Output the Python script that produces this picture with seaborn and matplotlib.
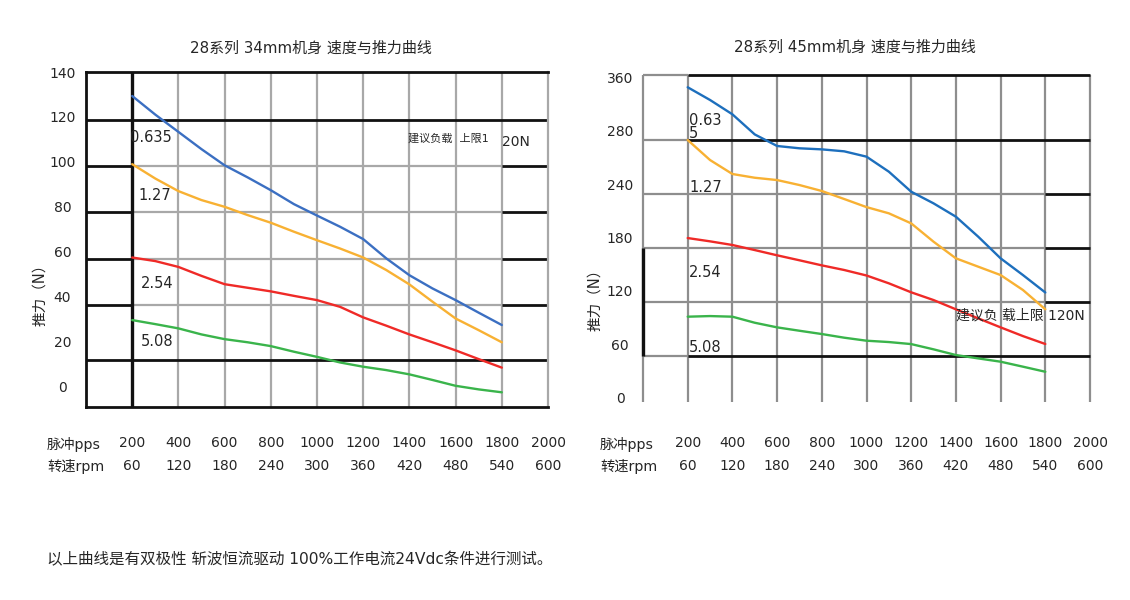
import matplotlib
matplotlib.use("Agg")
import matplotlib.pyplot as plt
import matplotlib.transforms as mtransforms
import pandas as pd
import seaborn as sns

# ---------------- data ----------------
pps = [200, 300, 400, 500, 600, 700, 800, 900, 1000,
       1100, 1200, 1300, 1400, 1500, 1600, 1700, 1800]
pps_ticks = [200, 400, 600, 800, 1000, 1200, 1400, 1600, 1800, 2000]
rpm_ticks = [60, 120, 180, 240, 300, 360, 420, 480, 540, 600]
leads = ["0.635", "1.27", "2.54", "5.08"]

# 34mm body (left chart)
l34_0635 = [129.3, 121.0, 113.3, 105.6, 98.4, 93.0, 87.3, 81.1, 76.0,
            71.0, 65.5, 56.9, 49.4, 43.5, 38.3, 32.7, 27.2]
l34_127 = [98.9, 92.5, 86.9, 82.9, 79.9, 76.2, 72.8, 68.8, 65.0,
           61.3, 57.3, 51.7, 45.3, 37.6, 30.1, 24.9, 19.5]
l34_254 = [57.3, 55.7, 53.1, 49.1, 45.4, 43.8, 42.2, 40.2, 38.3,
           35.3, 30.6, 26.9, 23.0, 19.5, 15.9, 12.0, 8.2]
l34_508 = [29.4, 27.6, 25.7, 23.0, 20.9, 19.5, 17.8, 15.3, 13.0,
           10.5, 8.6, 7.1, 5.2, 2.7, 0.1, -1.5, -2.8]

# 45mm body (right chart)
l45_0635 = [349.0, 334.7, 318.6, 296.0, 283.0, 280.4, 279.2, 277.0, 271.0,
            254.1, 231.6, 218.5, 203.5, 181.0, 156.7, 137.9, 118.3]
l45_127 = [289.7, 267.2, 251.5, 247.3, 244.7, 239.1, 232.4, 223.4, 214.3,
           207.3, 196.0, 175.4, 156.7, 147.3, 137.9, 121.1, 99.4]
l45_254 = [179.5, 175.8, 171.7, 166.0, 160.1, 154.5, 148.8, 143.6, 137.4,
           128.6, 118.5, 109.8, 99.4, 89.2, 79.1, 69.3, 60.4]
l45_508 = [91.1, 91.8, 91.1, 84.3, 79.1, 75.3, 71.6, 67.5, 64.1,
           62.6, 60.3, 54.4, 48.0, 44.2, 40.5, 34.9, 29.2]

left_y_ticks = [0, 20, 40, 60, 80, 100, 120, 140]
left_y_labels = ["0", "20", "40", "60", "80", "100", "120", "140"]
right_y_ticks = [0, 60, 120, 180, 240, 300, 360]
right_y_labels = ["0", "60", "120", "180", "240", "280", "360"]

left_title = "28系列 34mm机身 速度与推力曲线"
right_title = "28系列 45mm机身 速度与推力曲线"
ylabel = "推力（N）"
footnote = "以上曲线是有双极性 斩波恒流驱动 100%工作电流24Vdc条件进行测试。"

# ---------------- styling / layout ----------------
sns.set_style("white")
plt.rcParams["font.family"] = ["DejaVu Sans", "Noto Sans CJK SC"]

W, H = 1130, 600
fig = plt.figure(figsize=(W / 100, H / 100), dpi=100)
axL = fig.add_axes([86 / W, 1 - 407 / H, (548 - 86) / W, (407 - 72) / H])
axR = fig.add_axes([643 / W, 1 - 402 / H, (1090 - 643) / W, (402 - 75) / H])

colorsL = {"0.635": "#3b6fc2", "1.27": "#f8b133", "2.54": "#ef2a27", "5.08": "#3ab44b"}
colorsR = {"0.635": "#1d6fbd", "1.27": "#f8b133", "2.54": "#ef2a27", "5.08": "#3ab44b"}
GRAY_L = "#a8a8a8"
GRAY_R = "#8e8e8e"
BLACK = "#111111"


def long_df(series):
    rows = []
    for lead, vals in zip(leads, series):
        for x, v in zip(pps, vals):
            rows.append({"pps": x, "force": v, "lead": lead})
    return pd.DataFrame(rows)


dfL = long_df([l34_0635, l34_127, l34_254, l34_508])
dfR = long_df([l45_0635, l45_127, l45_254, l45_508])

# ---------------- left chart ----------------
ax = axL
ax.set_xlim(0, 2000)
ax.set_ylim(-9.35, 139.9)
for x in pps_ticks[1:-1]:
    ax.vlines(x, -9.35, 139.9, colors=GRAY_L, lw=1.6, zorder=1)
ax.vlines(200, -9.35, 139.9, colors=BLACK, lw=2.4, zorder=2)
for y in [98.2, 77.6, 56.8, 36.1]:
    ax.hlines(y, 200, 1800, colors=GRAY_L, lw=1.6, zorder=1)
    ax.hlines(y, 0, 200, colors=BLACK, lw=2.0, zorder=2)
    ax.hlines(y, 1800, 2000, colors=BLACK, lw=2.0, zorder=2)
for y in [118.5, 11.7]:
    ax.hlines(y, 0, 2000, colors=BLACK, lw=2.0, zorder=2)
for side in ["left", "top", "bottom"]:
    ax.spines[side].set_color(BLACK)
    ax.spines[side].set_linewidth(2.0)
ax.spines["right"].set_color(GRAY_L)
ax.spines["right"].set_linewidth(1.6)

sns.lineplot(data=dfL, x="pps", y="force", hue="lead", palette=colorsL,
             ax=ax, legend=False, lw=1.7, errorbar=None, zorder=3)

ax.set_yticks(left_y_ticks)
ax.set_yticklabels(left_y_labels)
ax.tick_params(axis="y", length=0, pad=17, labelsize=10)
for t in ax.get_yticklabels():
    t.set_ha("center")
ax.set_xticks([])
ax.set_xlabel("")
ax.set_ylabel("")

ax.text(0.487, 1.072, left_title, transform=ax.transAxes, ha="center",
        va="center", fontsize=10.8)
lab_pos_L = [(190, 110.9), (225, 85.1), (238, 45.9), (238, 20.0)]
for lead, (x, y) in zip(leads, lab_pos_L):
    ax.text(x, y, lead, ha="left", va="center", fontsize=10.5, zorder=4)
ax.text(1392, 110.3, "建议负载  上限1", ha="left", va="center", fontsize=8, zorder=4)
ax.text(1802, 108.9, "20N", ha="left", va="center", fontsize=10, zorder=4)

# ---------------- right chart ----------------
ax = axR
ax.set_xlim(0, 2000)
ax.set_ylim(-4.8, 362.8)
for x in [0] + pps_ticks:
    ax.vlines(x, -4.8, 362.8, colors=GRAY_R, lw=1.6, zorder=1, clip_on=False)
for y in [362.8, 289.7, 46.9]:
    ax.hlines(y, 0, 200, colors=GRAY_R, lw=1.6, zorder=1, clip_on=False)
    ax.hlines(y, 200, 2000, colors=BLACK, lw=2.0, zorder=2, clip_on=False)
for y in [229.0, 168.6, 107.9]:
    ax.hlines(y, 0, 1800, colors=GRAY_R, lw=1.6, zorder=1)
    ax.hlines(y, 1800, 2000, colors=BLACK, lw=2.0, zorder=2, clip_on=False)
ax.vlines(0, 46.9, 168.6, colors=BLACK, lw=2.4, zorder=2, clip_on=False)
for side in ["left", "top", "bottom", "right"]:
    ax.spines[side].set_visible(False)

sns.lineplot(data=dfR, x="pps", y="force", hue="lead", palette=colorsR,
             ax=ax, legend=False, lw=1.7, errorbar=None, zorder=3)

ax.set_yticks(right_y_ticks)
ax.set_yticklabels(right_y_labels)
ax.tick_params(axis="y", length=0, pad=16.5, labelsize=10)
for t in ax.get_yticklabels():
    t.set_ha("center")
ax.set_xticks([])
ax.set_xlabel("")
ax.set_ylabel("")

ax.text(0.474, 1.086, right_title, transform=ax.transAxes, ha="center",
        va="center", fontsize=10.8)
lab_pos_R = [(206, 304.5), (206, 236.0), (206, 141.3), (206, 57.0)]
for lead, (x, y) in zip(leads, lab_pos_R):
    txt = lead if lead != "0.635" else lead[:-1] + "\n" + lead[-1]
    ax.text(x, y, txt, ha="left", va="center", fontsize=10.5, zorder=4,
            linespacing=0.8)
ax.text(1400, 93.0, "建议负 载上限 120N", ha="left", va="center",
        fontsize=10, zorder=4)

# ---------------- x "table" rows and labels ----------------
for ax, x0 in [(axL, 47), (axR, 600)]:
    tr = mtransforms.blended_transform_factory(ax.transData, fig.transFigure)
    for p, r in zip(pps_ticks, rpm_ticks):
        ax.text(p, 1 - 443 / H, str(p), transform=tr, ha="center", va="center",
                fontsize=10, clip_on=False)
        ax.text(p, 1 - 466 / H, str(r), transform=tr, ha="center", va="center",
                fontsize=10, clip_on=False)
    fig.text(x0 / W, 1 - 444 / H, "脉冲pps", ha="left", va="center", fontsize=10.3)
    fig.text(x0 / W, 1 - 467 / H, "转速rpm", ha="left", va="center", fontsize=10.3)

fig.text(40 / W, 1 - 291 / H, ylabel, rotation=90, ha="center", va="center",
         fontsize=10.5)
fig.text(595 / W, 1 - 296 / H, ylabel, rotation=90, ha="center", va="center",
         fontsize=10.5)

fig.text(47 / W, 1 - 560 / H, footnote, ha="left", va="center", fontsize=11.2)

fig.savefig("out.png", dpi=100)
